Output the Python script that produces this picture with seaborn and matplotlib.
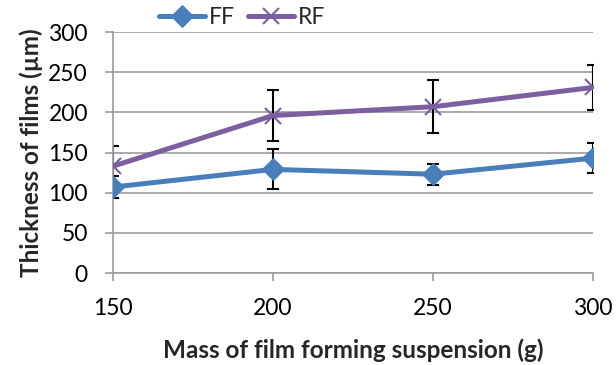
import pandas as pd
import numpy as np
import matplotlib
matplotlib.use('Agg')
import matplotlib.pyplot as plt
import seaborn as sns

# data
mass = [150, 200, 250, 300]
ff_mean = [107, 129, 123, 143]
ff_err = [14, 25, 13, 19]
rf_mean = [133, 196, 207, 231]
rf_err = [25, 32, 33, 28]

ff_color = '#4a7ebb'
rf_color = '#7d5fa0'

sns.set_theme(style='white')
plt.rcParams['font.family'] = ['Lato', 'DejaVu Sans']

fig = plt.figure(figsize=(6.16, 3.65), dpi=100)
ax = fig.add_axes([0.1834, 0.252, 0.7793, 0.6603])

# error bars first so the lines sit on top
ax.errorbar(mass, ff_mean, yerr=ff_err, fmt='none', ecolor='black',
            elinewidth=1.5, capsize=4, capthick=1.5, zorder=2)
ax.errorbar(mass, rf_mean, yerr=rf_err, fmt='none', ecolor='black',
            elinewidth=1.5, capsize=4, capthick=1.5, zorder=2)

# one lineplot per series (filled and line markers can't share a style map)
sns.lineplot(x=mass, y=ff_mean, color=ff_color, marker='D', markersize=11,
             markeredgecolor=ff_color, linewidth=3.6, label='FF', ax=ax, zorder=3)
sns.lineplot(x=mass, y=rf_mean, color=rf_color, marker='x', markersize=12,
             markeredgewidth=1.5, markeredgecolor=rf_color, linewidth=3.6,
             label='RF', ax=ax, zorder=3)

ax.set_xlim(150, 300)
ax.set_ylim(0, 300)
ax.set_xticks(mass)
ax.set_yticks(np.arange(0, 301, 50))
ax.yaxis.grid(True, color='#9c9c9c', linewidth=1.2)
ax.xaxis.grid(False)
for s in ['top', 'right']:
    ax.spines[s].set_visible(False)
for s in ['left', 'bottom']:
    ax.spines[s].set_color('#9c9c9c')
    ax.spines[s].set_linewidth(1.2)
ax.tick_params(axis='both', which='major', direction='out', length=6,
               width=1.2, color='#9c9c9c', labelsize=16.5, labelcolor='black',
               bottom=True, left=True)
ax.tick_params(axis='x', pad=12)
ax.tick_params(axis='y', pad=12)

ax.set_xlabel('Mass of film forming suspension (g)', fontsize=17.5,
              fontweight='bold', labelpad=14)
ax.set_ylabel('Thickness of films (\u00b5m)', fontsize=17.5,
              fontweight='bold', labelpad=4)

ax.legend(loc='center', bbox_to_anchor=(0.269, 1.062),
          ncol=2, frameon=False, fontsize=16.5, handlelength=2.0,
          columnspacing=0.6, handletextpad=0.15, borderaxespad=0,
          borderpad=0)

fig.savefig('out.png', dpi=100)
